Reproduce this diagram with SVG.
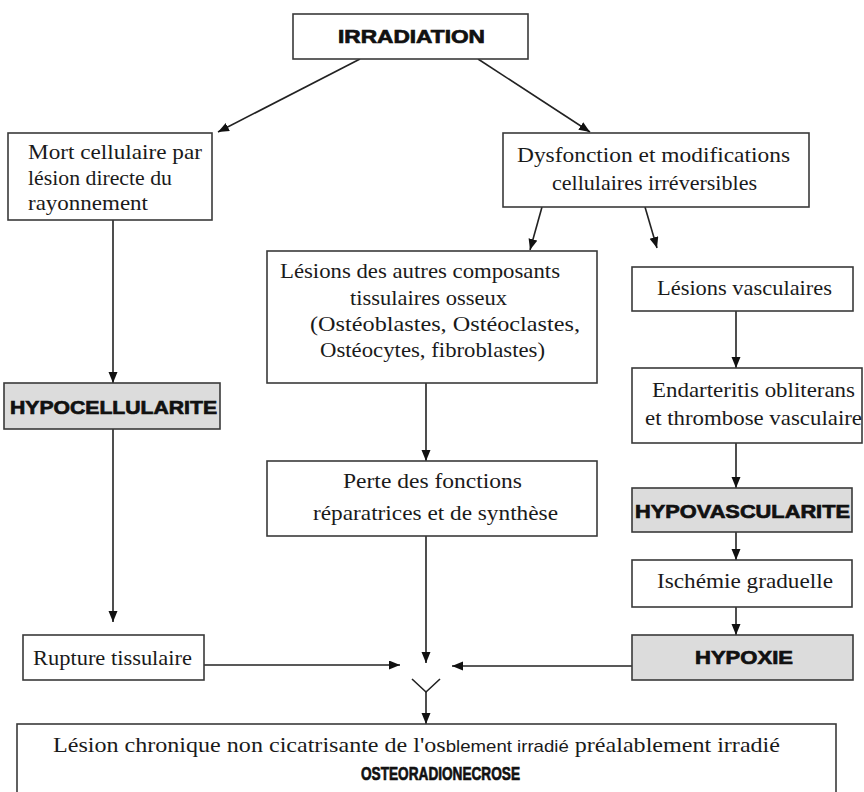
<svg xmlns="http://www.w3.org/2000/svg" width="864" height="792" viewBox="0 0 864 792">
<style>
.box{fill:#fff;stroke:#3a3a3a;stroke-width:1.6}
.gray{fill:#dcdcdc;stroke:#3a3a3a;stroke-width:1.6}
.t{font-family:"Liberation Serif","Times New Roman",serif;font-size:22px;fill:#1a1a1a}
.b{font-family:"Liberation Sans",Arial,sans-serif;font-weight:bold;font-size:19px;fill:#111;stroke:#111;stroke-width:0.7}
.c{fill:none;stroke:#222;stroke-width:1.6}
</style>
<defs>
<marker id="ah" markerUnits="userSpaceOnUse" markerWidth="12" markerHeight="10" refX="11" refY="4.5" orient="auto">
<path d="M0,0 L11,4.5 L0,9 z" fill="#111"/>
</marker>
</defs>
<g id="connectors">
<line class="c" x1="360" y1="59" x2="218" y2="132" marker-end="url(#ah)"/>
<line class="c" x1="478" y1="59" x2="590" y2="132" marker-end="url(#ah)"/>
<line class="c" x1="113" y1="220" x2="113" y2="383" marker-end="url(#ah)"/>
<line class="c" x1="113" y1="429" x2="113" y2="622" marker-end="url(#ah)"/>
<line class="c" x1="542" y1="207" x2="530" y2="250" marker-end="url(#ah)"/>
<line class="c" x1="645" y1="207" x2="657" y2="248" marker-end="url(#ah)"/>
<line class="c" x1="426" y1="383" x2="426" y2="461" marker-end="url(#ah)"/>
<line class="c" x1="736" y1="311" x2="736" y2="368" marker-end="url(#ah)"/>
<line class="c" x1="736" y1="443" x2="736" y2="488" marker-end="url(#ah)"/>
<line class="c" x1="736" y1="532" x2="736" y2="560" marker-end="url(#ah)"/>
<line class="c" x1="736" y1="607" x2="736" y2="635" marker-end="url(#ah)"/>
<line class="c" x1="426" y1="536" x2="426" y2="663" marker-end="url(#ah)"/>
<line class="c" x1="204" y1="665" x2="400" y2="665" marker-end="url(#ah)"/>
<line class="c" x1="632" y1="666" x2="452" y2="666" marker-end="url(#ah)"/>
<polyline class="c" points="412,679 426,692 440,679"/>
<line class="c" x1="426" y1="692" x2="426" y2="724" marker-end="url(#ah)"/>
</g>
<g id="irradiation">
<rect class="box" x="293" y="14" width="235" height="45"/>
<text class="b" x="338" y="43" font-size="18" textLength="147" lengthAdjust="spacingAndGlyphs">IRRADIATION</text>
</g>
<g id="mort">
<rect class="box" x="8" y="133" width="204" height="87"/>
<text class="t" x="28" y="159" textLength="174" lengthAdjust="spacingAndGlyphs">Mort cellulaire par</text>
<text class="t" x="28" y="185" textLength="144" lengthAdjust="spacingAndGlyphs">lésion directe du</text>
<text class="t" x="28" y="210" textLength="120" lengthAdjust="spacingAndGlyphs">rayonnement</text>
</g>
<g id="dysfonction">
<rect class="box" x="503" y="133" width="306" height="74"/>
<text class="t" x="517" y="162" textLength="273" lengthAdjust="spacingAndGlyphs">Dysfonction et modifications</text>
<text class="t" x="552" y="190" textLength="205" lengthAdjust="spacingAndGlyphs">cellulaires irréversibles</text>
</g>
<g id="lesions-autres">
<rect class="box" x="267" y="251" width="330" height="132"/>
<text class="t" x="280" y="278" textLength="280" lengthAdjust="spacingAndGlyphs">Lésions des autres composants</text>
<text class="t" x="350" y="305" textLength="157" lengthAdjust="spacingAndGlyphs">tissulaires osseux</text>
<text class="t" x="310" y="331" textLength="270" lengthAdjust="spacingAndGlyphs">(Ostéoblastes, Ostéoclastes,</text>
<text class="t" x="320" y="357" textLength="225" lengthAdjust="spacingAndGlyphs">Ostéocytes, fibroblastes)</text>
</g>
<g id="lesions-vasculaires">
<rect class="box" x="632" y="267" width="221" height="44"/>
<text class="t" x="657" y="295" textLength="175" lengthAdjust="spacingAndGlyphs">Lésions vasculaires</text>
</g>
<g id="endarteritis">
<rect class="box" x="632" y="368" width="230" height="75"/>
<text class="t" x="652" y="397" textLength="203" lengthAdjust="spacingAndGlyphs">Endarteritis obliterans</text>
<text class="t" x="645" y="425" textLength="217" lengthAdjust="spacingAndGlyphs">et thrombose vasculaire</text>
</g>
<g id="hypocellularite">
<rect class="gray" x="4" y="383" width="216" height="46"/>
<text class="b" x="10" y="414" textLength="207" lengthAdjust="spacingAndGlyphs">HYPOCELLULARITE</text>
</g>
<g id="perte">
<rect class="box" x="267" y="461" width="330" height="75"/>
<text class="t" x="343" y="488" textLength="179" lengthAdjust="spacingAndGlyphs">Perte des fonctions</text>
<text class="t" x="313" y="520" textLength="245" lengthAdjust="spacingAndGlyphs">réparatrices et de synthèse</text>
</g>
<g id="hypovascularite">
<rect class="gray" x="632" y="488" width="220" height="44"/>
<text class="b" x="635" y="518" textLength="215" lengthAdjust="spacingAndGlyphs">HYPOVASCULARITE</text>
</g>
<g id="ischemie">
<rect class="box" x="632" y="560" width="220" height="47"/>
<text class="t" x="657" y="588" textLength="176" lengthAdjust="spacingAndGlyphs">Ischémie graduelle</text>
</g>
<g id="rupture">
<rect class="box" x="23" y="635" width="181" height="45"/>
<text class="t" x="33" y="665" textLength="159" lengthAdjust="spacingAndGlyphs">Rupture tissulaire</text>
</g>
<g id="hypoxie">
<rect class="gray" x="632" y="635" width="221" height="45"/>
<text class="b" x="695" y="664" font-size="18" textLength="98" lengthAdjust="spacingAndGlyphs">HYPOXIE</text>
</g>
<g id="osteoradionecrose">
<rect class="box" x="17" y="724" width="819" height="80"/>
<text class="t" x="53" y="752" font-size="21" textLength="727" lengthAdjust="spacingAndGlyphs">Lésion chronique non cicatrisante de l'os<tspan font-family="'Liberation Sans Narrow','Liberation Sans',sans-serif" font-size="17">blement irradié</tspan> préalablement irradié</text>
<text class="b" x="361" y="780" font-size="19" textLength="159" lengthAdjust="spacingAndGlyphs">OSTEORADIONECROSE</text>
</g>
</svg>
